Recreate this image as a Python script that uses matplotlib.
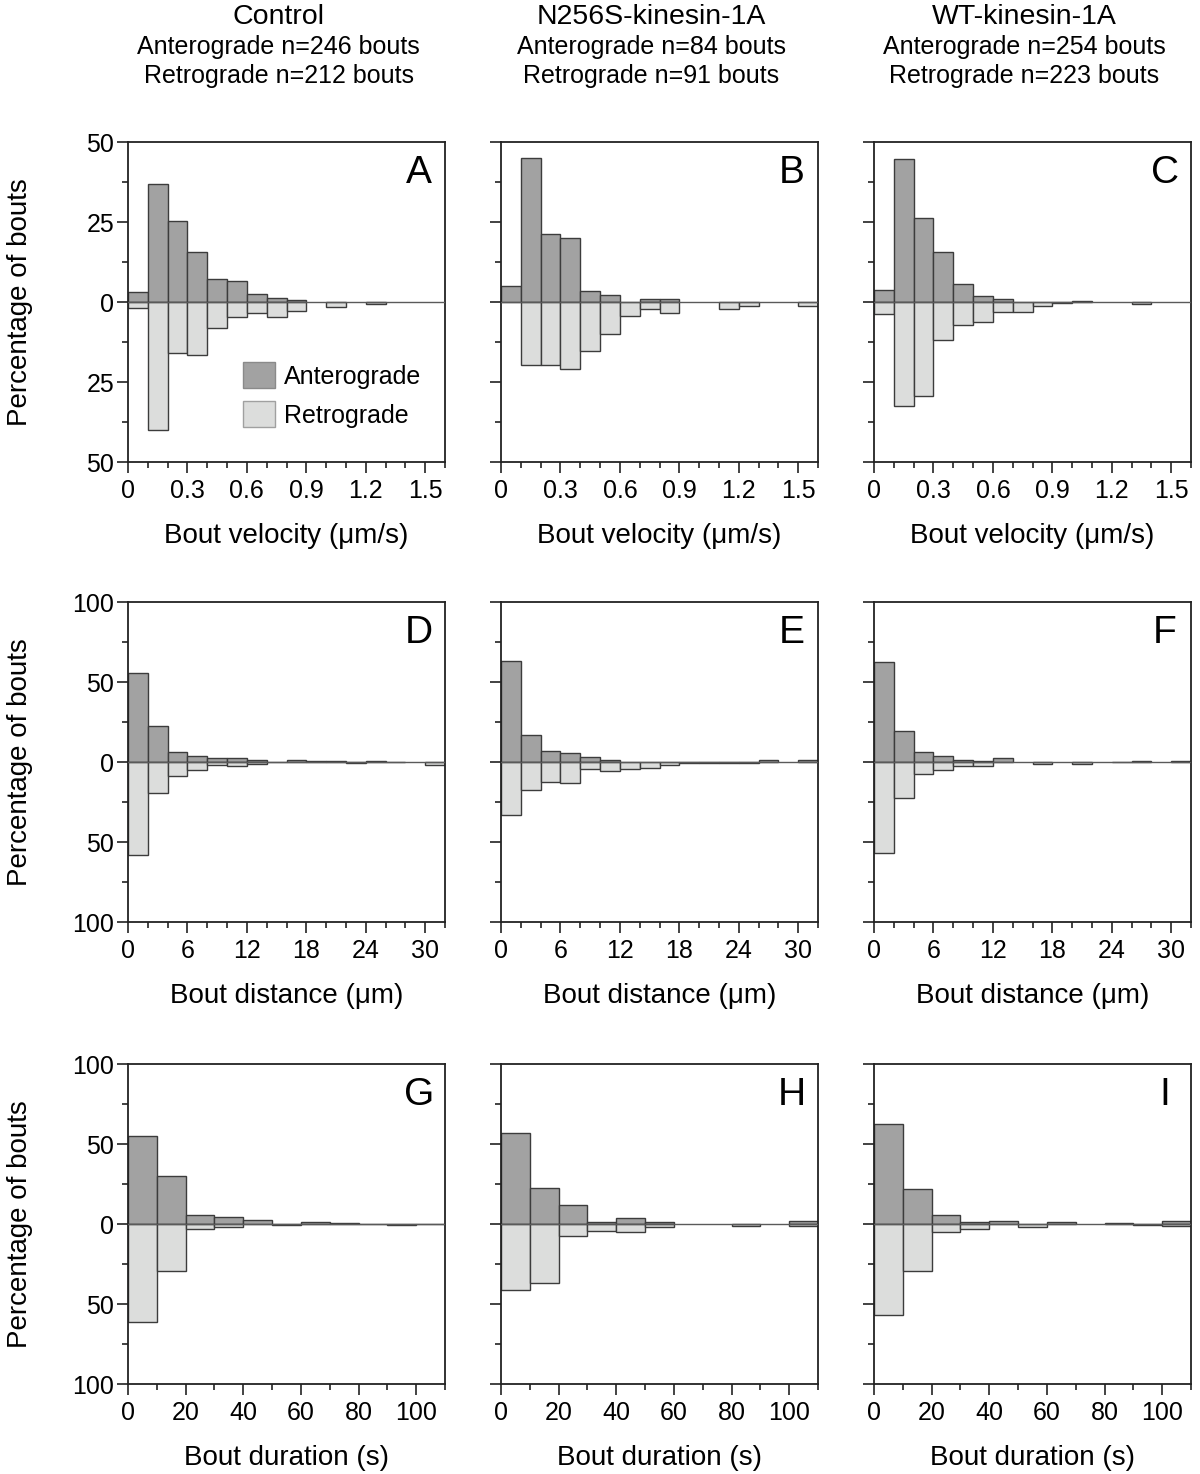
import numpy as np
import matplotlib
matplotlib.use("Agg")
import matplotlib.pyplot as plt
from matplotlib.patches import Patch
from matplotlib.ticker import FixedLocator

plt.rcParams['font.family'] = ['Liberation Sans', 'DejaVu Sans']

# ---------------- data ----------------
col_titles = ["Control", "N256S-kinesin-1A", "WT-kinesin-1A"]
n_antero = [246, 84, 254]
n_retro = [212, 91, 223]
panel_letters = ["A", "B", "C", "D", "E", "F", "G", "H", "I"]

velocity_bin = 0.1
velocity_nbins = 16
A_ant = [3.1, 36.8, 25.4, 15.7, 7.3, 6.5, 2.4, 1.35, 0.7, 0, 0, 0, 0, 0, 0, 0]
A_ret = [1.8, 39.9, 15.8, 16.5, 8.0, 4.8, 3.3, 4.8, 2.9, 0, 1.5, 0, 0.5, 0, 0, 0]
B_ant = [4.9, 45.1, 21.3, 20.1, 3.5, 2.3, 0, 1.0, 1.0, 0, 0, 0, 0, 0, 0, 0]
B_ret = [0, 19.8, 19.8, 20.8, 15.3, 9.9, 4.4, 2.3, 3.4, 0, 0, 2.3, 1.2, 0, 0, 1.2]
C_ant = [3.7, 44.8, 26.2, 15.7, 5.5, 2.0, 1.0, 0, 0, 0, 0.4, 0, 0, 0, 0, 0]
C_ret = [3.6, 32.6, 29.5, 11.8, 7.1, 6.2, 3.1, 3.2, 1.2, 0.4, 0, 0, 0, 0.5, 0, 0]

distance_bin = 2
distance_nbins = 16
D_ant = [55.8, 22.7, 6.0, 4.0, 2.5, 2.5, 1.2, 0.3, 1.2, 0.6, 0.6, 0, 0.6, 0.3, 0, 0]
D_ret = [57.9, 19.4, 8.5, 4.8, 1.9, 2.5, 1.5, 0, 0, 0, 0, 0.4, 0, 0, 0, 2.1]
E_ant = [63.1, 16.7, 6.9, 5.6, 3.3, 1.0, 0, 0, 0, 0, 0, 0, 0, 1.0, 0, 1.0]
E_ret = [33.1, 17.7, 12.3, 13.3, 4.6, 5.4, 4.6, 3.5, 2.1, 0.8, 0.8, 0.8, 0.8, 0, 0, 0]
F_ant = [62.7, 19.2, 6.2, 4.0, 1.0, 0.6, 2.7, 0, 0, 0, 0, 0, 0.3, 0.4, 0, 0.4]
F_ret = [56.7, 22.7, 7.3, 5.2, 2.7, 2.3, 0, 0, 1.0, 0, 1.5, 0, 0, 0, 0, 0]

duration_bin = 10
duration_nbins = 11
G_ant = [55.0, 30.0, 5.4, 4.2, 2.3, 0, 1.5, 0.4, 0.2, 0, 0.3]
G_ret = [61.0, 29.2, 3.3, 2.1, 0, 0.8, 0, 0, 0, 0.6, 0]
H_ant = [56.9, 22.5, 11.9, 1.0, 3.5, 1.0, 0, 0, 0, 0, 2.1]
H_ret = [41.5, 37.1, 7.7, 4.4, 4.8, 2.1, 0, 0, 1.0, 0, 1.2]
I_ant = [62.3, 21.7, 5.4, 1.5, 2.1, 0, 1.5, 0, 0.4, 0, 2.1]
I_ret = [56.9, 29.6, 4.8, 3.3, 0, 1.7, 0, 0, 0, 0.8, 1.2]

row_xlabels = ["Bout velocity (\u03bcm/s)", "Bout distance (\u03bcm)", "Bout duration (s)"]
row_xticks = [[0, 0.3, 0.6, 0.9, 1.2, 1.5], [0, 6, 12, 18, 24, 30], [0, 20, 40, 60, 80, 100]]
row_xticklabels = [["0", "0.3", "0.6", "0.9", "1.2", "1.5"],
                   ["0", "6", "12", "18", "24", "30"],
                   ["0", "20", "40", "60", "80", "100"]]
row_ylim = [50, 100, 100]
row_yticks = [[-50, -25, 0, 25, 50], [-100, -50, 0, 50, 100], [-100, -50, 0, 50, 100]]
row_yminor = [12.5, 25, 25]

rows = [
    (velocity_bin, velocity_nbins, [(A_ant, A_ret), (B_ant, B_ret), (C_ant, C_ret)]),
    (distance_bin, distance_nbins, [(D_ant, D_ret), (E_ant, E_ret), (F_ant, F_ret)]),
    (duration_bin, duration_nbins, [(G_ant, G_ret), (H_ant, H_ret), (I_ant, I_ret)]),
]

ANT_COLOR = "#a2a2a2"
RET_COLOR = "#dcdddc"
EDGE = "#3c3c3c"

# --------------- layout ---------------
W, H = 1200, 1474
fig = plt.figure(figsize=(W / 100, H / 100), dpi=100)
col_left = [128, 501, 874]
row_top = [142, 602, 1064]
ax_w, ax_h = 317, 320

TICK_FS = 18
LABEL_FS = 20

for r, (binw, nb, pairs) in enumerate(rows):
    edges = np.arange(nb) * binw
    for c, (ant, ret) in enumerate(pairs):
        ax = fig.add_axes([col_left[c] / W, 1 - (row_top[r] + ax_h) / H, ax_w / W, ax_h / H])
        ant = np.asarray(ant, float)
        ret = np.asarray(ret, float)
        ma = ant > 0
        mr = ret > 0
        ax.bar(edges[ma], ant[ma], width=binw, align='edge', color=ANT_COLOR,
               edgecolor=EDGE, linewidth=1.0, zorder=2)
        ax.bar(edges[mr], -ret[mr], width=binw, align='edge', color=RET_COLOR,
               edgecolor=EDGE, linewidth=1.0, zorder=2)
        ax.axhline(0, color="#5a5a5a", linewidth=1.0, zorder=3)
        ax.set_xlim(0, nb * binw)
        yl = row_ylim[r]
        ax.set_ylim(-yl, yl)
        ax.yaxis.set_major_locator(FixedLocator(row_yticks[r]))
        if c == 0:
            ax.set_yticklabels([str(abs(v)) for v in row_yticks[r]])
        else:
            ax.set_yticklabels([])
        ax.yaxis.set_minor_locator(FixedLocator(np.arange(-yl, yl + 0.01, row_yminor[r])))
        ax.xaxis.set_major_locator(FixedLocator(row_xticks[r]))
        ax.set_xticklabels(row_xticklabels[r])
        ax.xaxis.set_minor_locator(FixedLocator(edges.tolist() + [nb * binw]))
        ax.tick_params(axis='both', which='major', direction='out', length=8, width=1.2,
                       labelsize=TICK_FS, pad=2, color='#222222')
        ax.tick_params(axis='x', which='major', pad=4)
        ax.tick_params(axis='both', which='minor', direction='out', length=4.5, width=1.2,
                       color='#222222')
        for s in ax.spines.values():
            s.set_linewidth(1.3)
            s.set_color('#222222')
        ax.set_xlabel(row_xlabels[r], fontsize=LABEL_FS)
        ax.xaxis.label.set_va('center')
        ax.xaxis.set_label_coords(0.5, -0.232)
        if c == 0:
            ax.set_ylabel("Percentage of bouts", fontsize=LABEL_FS)
            ax.yaxis.label.set_va('center')
            ax.yaxis.set_label_coords(-0.34, 0.5)
        ax.text(0.917, 0.903, panel_letters[r * 3 + c], transform=ax.transAxes,
                ha='center', va='center', fontsize=28)
        if r == 0 and c == 0:
            handles = [Patch(facecolor=ANT_COLOR, edgecolor='#8a8a8a', linewidth=1.0),
                       Patch(facecolor=RET_COLOR, edgecolor='#a0a0a0', linewidth=1.0)]
            ax.legend(handles, ["Anterograde", "Retrograde"], loc='upper left',
                      bbox_to_anchor=(0.363, 0.3125), frameon=False, fontsize=18,
                      handlelength=1.28, handleheight=1.24, handletextpad=0.36,
                      labelspacing=0.5, borderpad=0, borderaxespad=0)

# column titles
for c in range(3):
    cx = (col_left[c] + ax_w / 2 - 8) / W
    fig.text(cx, 1 - 17 / H, col_titles[c], ha='center', va='center', fontsize=20.5)
    fig.text(cx, 1 - 47 / H, f"Anterograde n={n_antero[c]} bouts", ha='center', va='center', fontsize=18)
    fig.text(cx, 1 - 76 / H, f"Retrograde n={n_retro[c]} bouts", ha='center', va='center', fontsize=18)

fig.savefig("out.png", dpi=100)
